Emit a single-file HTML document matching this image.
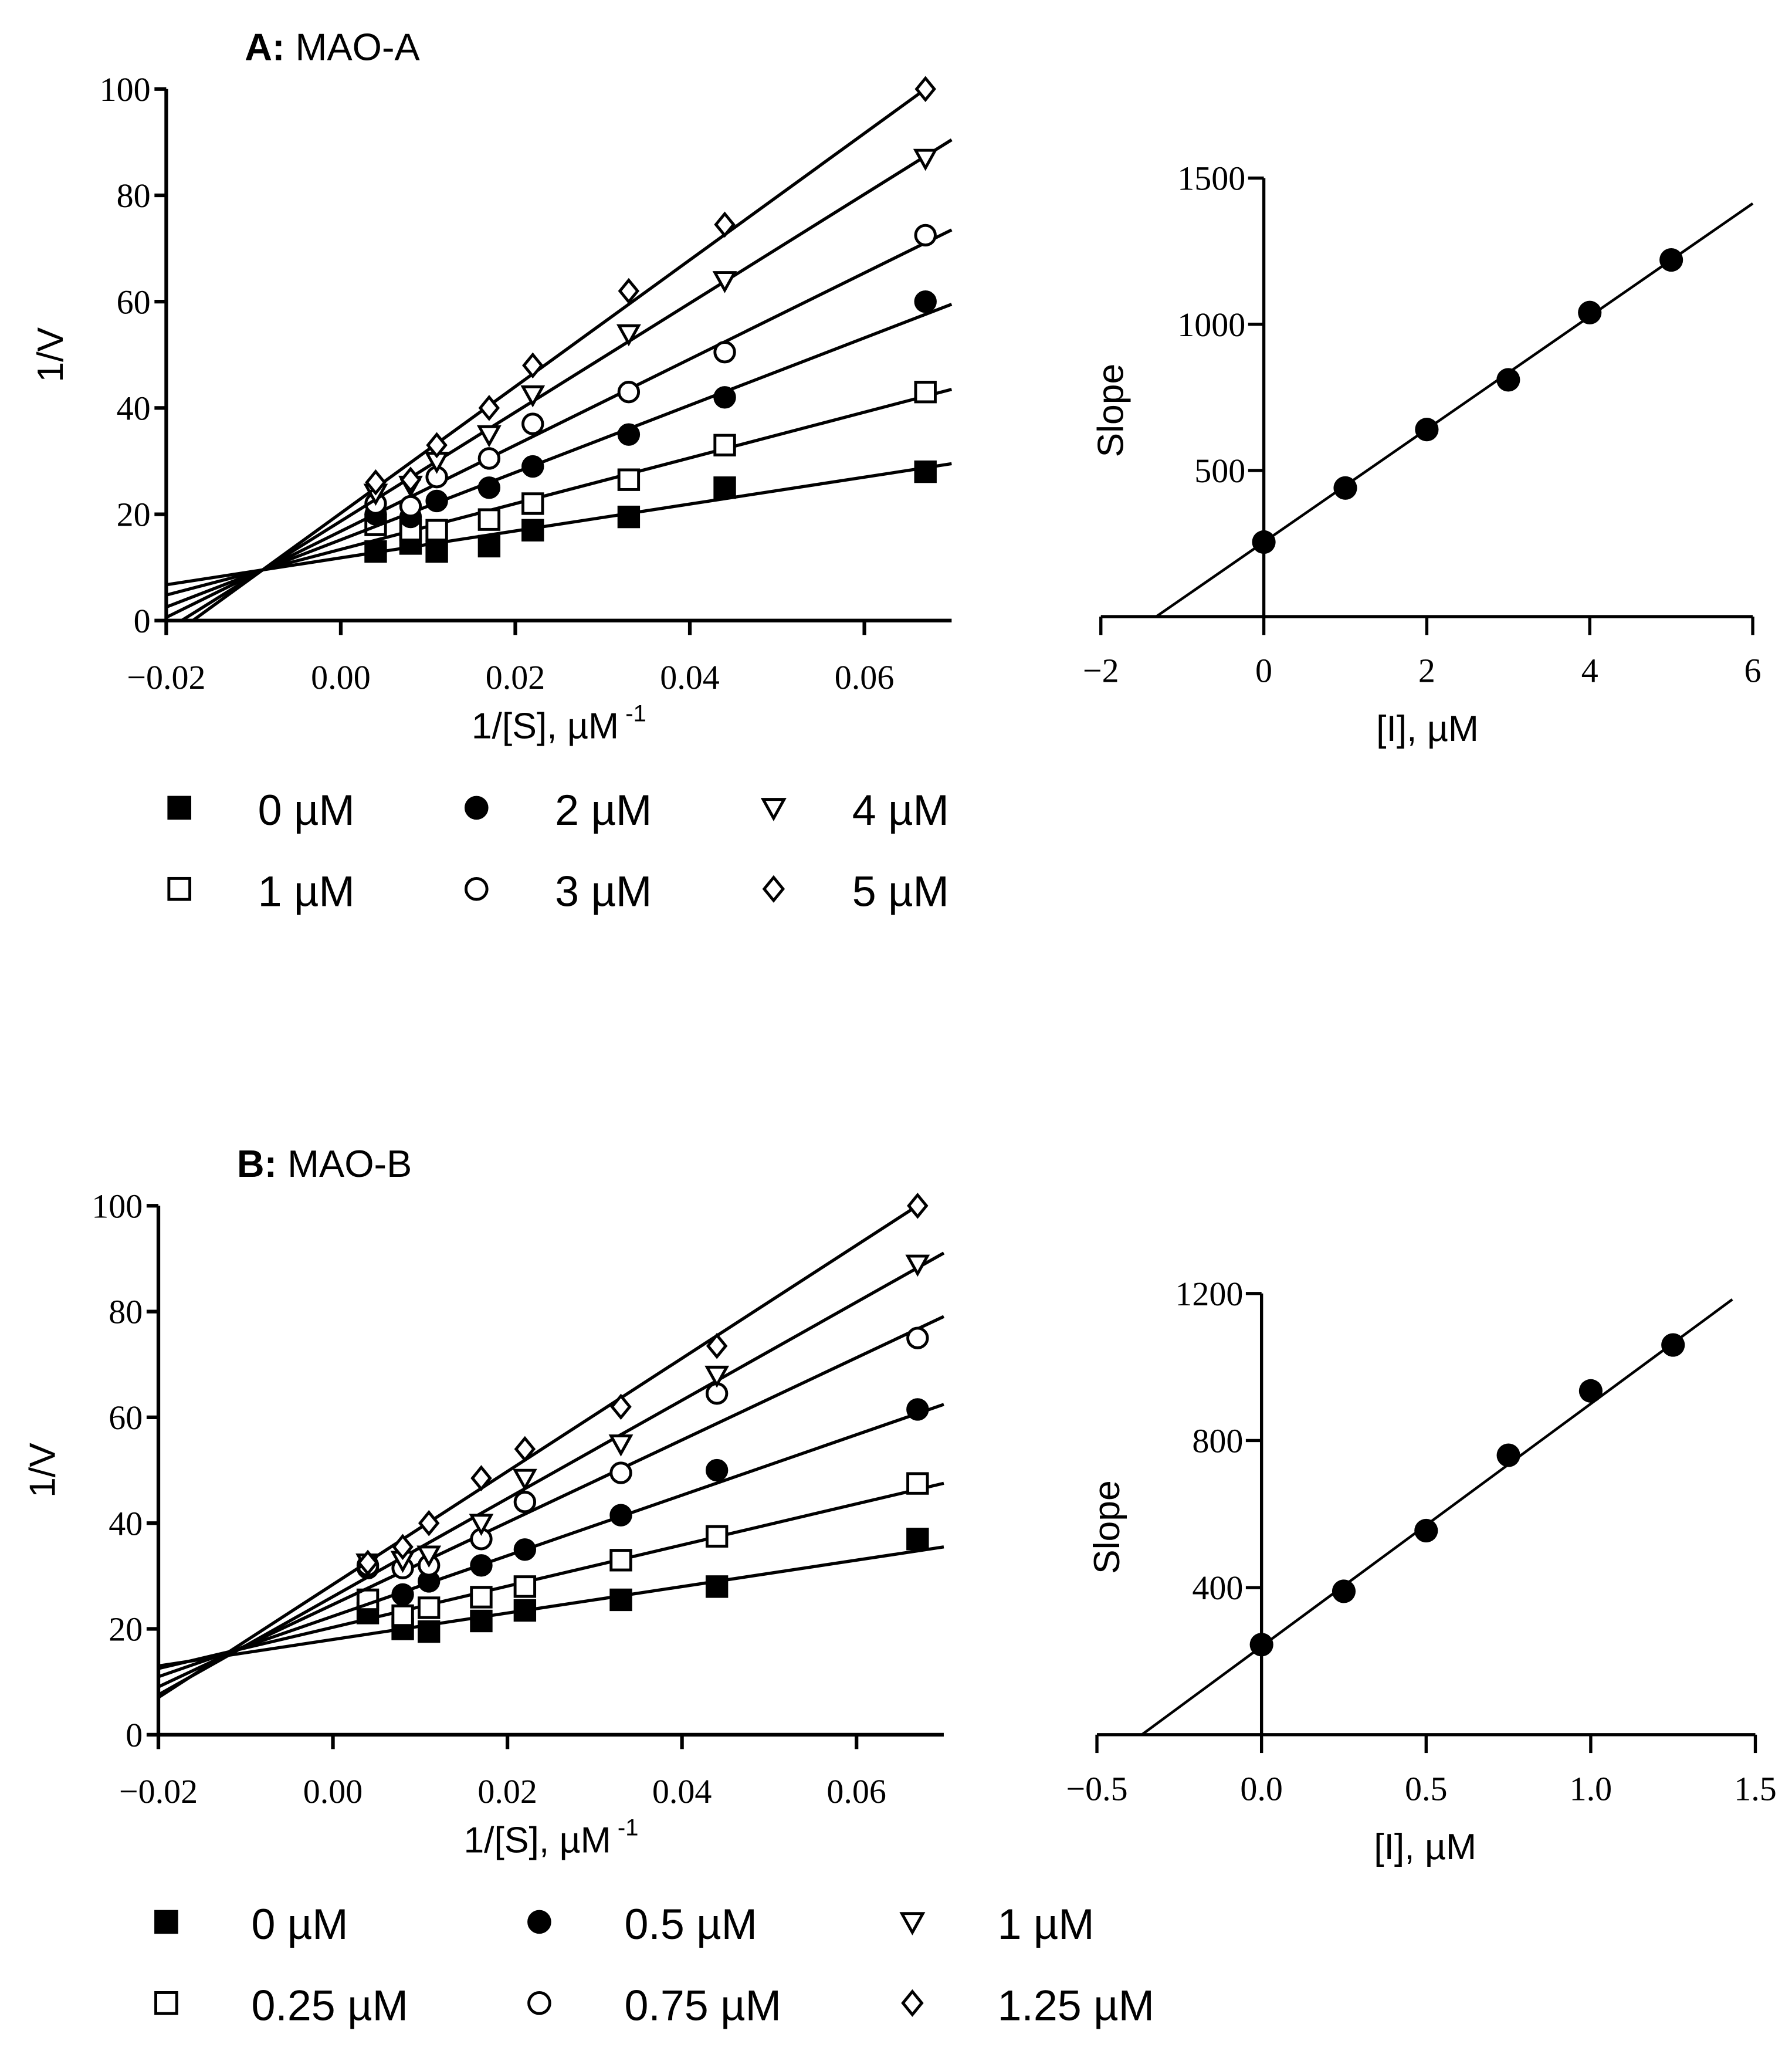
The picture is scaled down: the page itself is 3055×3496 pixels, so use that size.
<!DOCTYPE html>
<html><head><meta charset="utf-8"><style>
html,body{margin:0;padding:0;background:#fff}
svg{display:block}
.tk{font-family:"Liberation Serif",serif;font-size:26px}
.sn{font-family:"Liberation Sans",sans-serif}
</style></head><body>
<svg id="fig" width="3055" height="3496" viewBox="0 0 1369 1566.6" xmlns="http://www.w3.org/2000/svg"></svg>
<script>
// ---- Panel A data ----
const xS = [0.004, 0.008, 0.011, 0.017, 0.022, 0.033, 0.044, 0.067];
const aLabels = ["0 µM","1 µM","2 µM","3 µM","4 µM","5 µM"];
const aY0 = [13,14.5,13,14,17,19.5,25,28];
const aY1 = [18,17,17,19,22,26.5,33,43];
const aY2 = [20,19.5,22.5,25,29,35,42,60];
const aY3 = [22,21.5,27,30.5,37,43,50.5,72.5];
const aY4 = [24,25.5,30,35,42.5,54,64,87];
const aY5 = [26,26.5,33,40,48,62,74.5,100];
const aSlopes = [253,430,633,810,1025,1191];
const aInts = [11.8,13.4,15.2,16.8,18.7,20.2];
// ---- Panel A replot ----
const aI = [0,1,2,3,4,5];
const aSlopeVals = [255,440,640,810,1040,1220];
const aFitSlope = 193; const aFitInt = 255;
// ---- Panel B data ----
const bLabels = ["0 µM","0.25 µM","0.5 µM","0.75 µM","1 µM","1.25 µM"];
const bY0 = [23,20,19.5,21.5,23.5,25.5,28,37];
const bY1 = [25.5,22.5,24,26,28,33,37.5,47.5];
const bY2 = [31.5,26.5,29,32,35,41.5,50,61.5];
const bY3 = [32,31.5,32,37,44,49.5,64.5,75];
const bY4 = [32.5,33,34,40,48.5,55,68,89];
const bY5 = [32.5,35.5,40,48.5,54,62,73.5,100];
const bSlopes = [250,389,572,778,928,1069];
const bInts = [18,20.3,22.4,24.6,26.1,28.4];
// ---- Panel B replot ----
const bI = [0,0.25,0.5,0.75,1,1.25];
const bSlopeVals = [245,390,555,760,935,1060];
const bFitSlope = 660; const bFitInt = 240;
const xTicks = [-0.02,0,0.02,0.04,0.06];
const xTickLbl = ["\u22120.02","0.00","0.02","0.04","0.06"];
const yTicks = [0,20,40,60,80,100];

const NS="http://www.w3.org/2000/svg";
const svg=document.getElementById('fig');
function mk(tag,attrs,parent,text){const e=document.createElementNS(NS,tag);for(const k in attrs)e.setAttribute(k,attrs[k]);if(text!==undefined)e.textContent=text;(parent||svg).appendChild(e);return e;}
const SHAPES=["fsq","osq","fci","oci","otri","odia"];
function marker(g,shape,cx,cy,r){
  let e;
  const fill=shape[0]==="f"?"#000":"#fff";
  if(shape.endsWith("sq")) e=mk('rect',{x:cx-r,y:cy-r,width:2*r,height:2*r,fill:fill,stroke:"#000","stroke-width":2.2},g);
  else if(shape.endsWith("ci")) e=mk('circle',{cx:cx,cy:cy,r:r,fill:fill,stroke:"#000","stroke-width":2.2},g);
  else if(shape.endsWith("tri")) e=mk('polygon',{points:`${cx-r},${cy-r*0.8} ${cx+r},${cy-r*0.8} ${cx},${cy+r}`,fill:"#fff",stroke:"#000","stroke-width":2.2},g);
  else e=mk('polygon',{points:`${cx},${cy-r*1.1} ${cx+r*0.9},${cy} ${cx},${cy+r*1.1} ${cx-r*0.9},${cy}`,fill:"#fff",stroke:"#000","stroke-width":2.2},g);
  return e;
}

function lbPanel(P,ys,slopes,ints,labels,title,tag){
  const g=mk('g',{});  
  const sx=v=>P.x0+(v-(-0.02))/0.09*(P.x1-P.x0);
  const sy=v=>P.yb+(v/100)*(P.yt-P.yb);
  const ya=mk('line',{x1:P.x0,y1:P.yt,x2:P.x0,y2:P.yb,stroke:"#000","stroke-width":2.8},g); 
  const xa=mk('line',{x1:P.x0,y1:P.yb,x2:P.x1,y2:P.yb,stroke:"#000","stroke-width":2.8},g); 
  yTicks.forEach(t=>{mk('line',{x1:P.x0-9,y1:sy(t),x2:P.x0,y2:sy(t),stroke:"#000","stroke-width":2.8},g);
    const l=mk('text',{x:P.x0-12,y:sy(t)+9,"text-anchor":"end",class:"tk"},g,String(t));});
  xTicks.forEach((t,i)=>{mk('line',{x1:sx(t),y1:P.yb,x2:sx(t),y2:P.yb+11,stroke:"#000","stroke-width":2.8},g);
    const l=mk('text',{x:sx(t),y:P.yb+52,"text-anchor":"middle",class:"tk"},g,xTickLbl[i]);});
  const tt=mk('text',{x:P.x0+60,y:P.yt-22,class:"sn","font-size":29},g); 
  mk('tspan',{"font-weight":"bold"},tt,title[0]); mk('tspan',{},tt,title[1]);
  const yl=mk('text',{transform:`translate(${P.x0-79},${(P.yt+P.yb)/2}) rotate(-90)`,"text-anchor":"middle",class:"sn","font-size":28},g,"1/V");
  const xl=mk('text',{x:P.x0+300,y:P.yb+90,"text-anchor":"middle",class:"sn","font-size":28},g,"1/[S], µM"); 
  mk('tspan',{dy:-13,"font-size":18},xl," -1");
  ys.forEach((arr,si)=>{
    const s=slopes[si],b=ints[si];
    let xa0=-0.02; if(b+s*xa0<0) xa0=-b/s;
    let xa1=0.07; if(b+s*xa1>100.5) xa1=(100.5-b)/s;
    const ln=mk('line',{x1:sx(xa0),y1:sy(b+s*xa0),x2:sx(xa1),y2:sy(b+s*xa1),stroke:"#000","stroke-width":2.4},g);
    
    arr.forEach((v,i)=>{const m=marker(g,SHAPES[si],sx(xS[i]),sy(v),7.5);});
  });
  const cols=[P.lx0,P.lx0+P.lcw,P.lx0+2*P.lcw];
  labels.forEach((lab,i)=>{const c=Math.floor(i/2),r=i%2;
    const lg=mk('g',{},g);
    marker(lg,SHAPES[i],cols[c],P.ly+r*P.lrh,8);
    mk('text',{x:cols[c]+P.ltx,y:P.ly+r*P.lrh+13,class:"sn","font-size":33},lg,lab);});
}
function replot(P,xs,vals,fs,fi,xt,yt,tag,xmin,xmax,ymax,xlo){
  const g=mk('g',{});
  const sx=v=>P.x0+(v-xmin)/(xmax-xmin)*(P.x1-P.x0);
  const sy=v=>P.yb-(v/ymax)*(P.yb-P.yt);
  const yx=sx(0);
  const ya=mk('line',{x1:yx,y1:P.yt,x2:yx,y2:P.yb,stroke:"#000","stroke-width":2.4},g);
  const xa=mk('line',{x1:P.x0,y1:P.yb,x2:P.x1,y2:P.yb,stroke:"#000","stroke-width":2.4},g);
  yt.forEach(t=>{mk('line',{x1:yx-12,y1:sy(t),x2:yx,y2:sy(t),stroke:"#000","stroke-width":2.4},g);
    const l=mk('text',{x:yx-14,y:sy(t)+9,"text-anchor":"end",class:"tk"},g,String(t));});
  xt.forEach(t=>{mk('line',{x1:sx(t),y1:P.yb,x2:sx(t),y2:P.yb+14,stroke:"#000","stroke-width":2.4},g);
    const l=mk('text',{x:sx(t),y:P.yb+50,"text-anchor":"middle",class:"tk"},g,(t<0?"\u2212":"")+(P.dec?Math.abs(t).toFixed(1):String(Math.abs(t))));});
  const x0=Math.max(xlo,-fi/fs);
  const ln=mk('line',{x1:sx(x0),y1:sy(fi+fs*x0),x2:sx(P.xend),y2:sy(fi+fs*P.xend),stroke:"#000","stroke-width":2},g);
  xs.forEach((x,i)=>{const c=mk('circle',{cx:sx(x),cy:sy(vals[i]),r:9,fill:"#000"},g);});
  const yl=mk('text',{transform:`translate(${P.x0+17},${(P.yt+P.yb)/2+10}) rotate(-90)`,"text-anchor":"middle",class:"sn","font-size":28},g,"Slope");
  const xl=mk('text',{x:yx+125,y:P.yb+95,"text-anchor":"middle",class:"sn","font-size":28},g,"[I], µM");
}
lbPanel({x0:127,x1:727,yt:68,yb:474,lx0:137,lcw:227,ltx:60,ly:617,lrh:62},[aY0,aY1,aY2,aY3,aY4,aY5],aSlopes,aInts,aLabels,["A:"," MAO-A"],"mao-a");
lbPanel({x0:121,x1:721,yt:921,yb:1325,lx0:127,lcw:285,ltx:65,ly:1468,lrh:62},[bY0,bY1,bY2,bY3,bY4,bY5],bSlopes,bInts,bLabels,["B:"," MAO-B"],"mao-b");
replot({x0:841,x1:1339,yt:136,yb:471,xend:6},aI,aSlopeVals,aFitSlope,aFitInt,[-2,0,2,4,6],[500,1000,1500],"mao-a",-2,6,1500,-2);
replot({x0:838,x1:1341,yt:988,yb:1325,xend:1.43,dec:true},bI,bSlopeVals,bFitSlope,bFitInt,[-0.5,0,0.5,1,1.5],[400,800,1200],"mao-b",-0.5,1.5,1200,-0.5);
</script>
</body></html>
